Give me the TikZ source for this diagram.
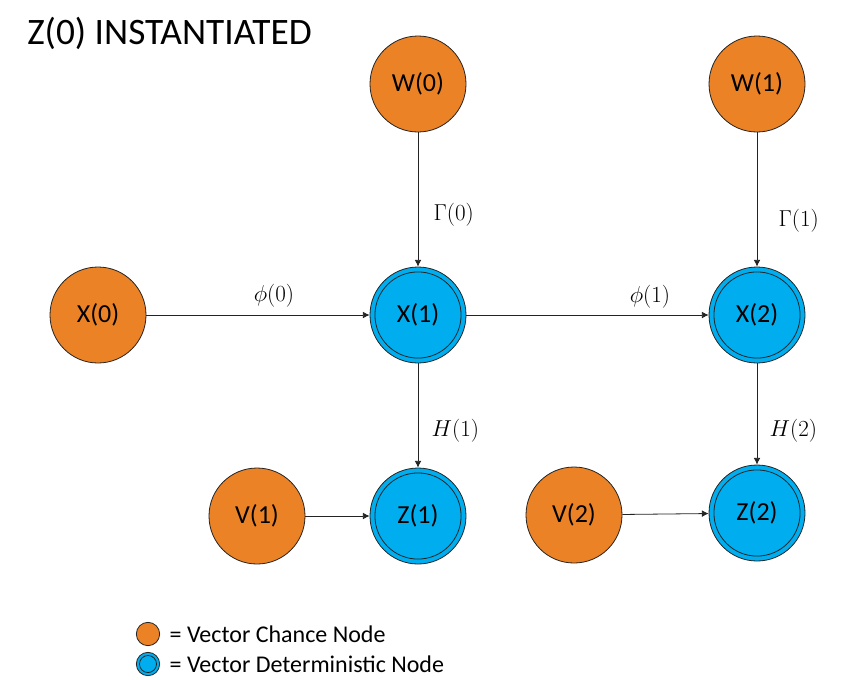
\documentclass[tikz,border=0pt]{standalone}
\usepackage{fontspec}
\setmainfont{Carlito}
\usepackage{tikz}
\usetikzlibrary{positioning,arrows.meta}
\definecolor{chance}{RGB}{236,130,38}
\definecolor{determ}{RGB}{0,174,239}
\definecolor{rim}{RGB}{35,35,35}

\begin{document}
\begin{tikzpicture}[
  x=0.75pt, y=-0.75pt,
  cnode/.style={circle,draw=rim,fill=chance,line width=0.6pt,minimum size=72pt,inner sep=0pt,font=\fontsize{19.5}{23}\selectfont},
  dnode/.style={cnode,fill=determ,path picture={\draw[rim,line width=0.6pt] (path picture bounding box.center) circle (#1);}},
  dnode/.default=32.3pt,
  ar/.style={-{Latex[length=5pt,width=5pt]},line width=0.6pt,draw=rim},
  lbl/.style={font=\fontsize{17.5}{21}\selectfont},
  legtxt/.style={inner sep=0pt,font=\fontsize{18}{21}\selectfont},
]
  \useasboundingbox (0,0) rectangle (866,679);
  \node[anchor=west,inner sep=0pt,font=\fontsize{28}{32}\selectfont] (title) at (27,33) {Z(0) INSTANTIATED};
  % chance nodes
  \node[cnode] (W0) at (418,84) {W(0)};
  \node[cnode] (W1) at (757,84) {W(1)};
  \node[cnode] (X0) at (98,315) {X(0)};
  \node[cnode] (V1) at (257,516) {V(1)};
  \node[cnode] (V2) at (574,515) {V(2)};
  % deterministic nodes
  \node[dnode] (X1) at (418,315) {X(1)};
  \node[dnode] (X2) at (757,315) {X(2)};
  \node[dnode] (Z1) at (418,516) {Z(1)};
  \node[dnode] (Z2) at (757,513) {Z(2)};
  % arrows
  \draw[ar] (W0) -- (X1);
  \draw[ar] (W1) -- (X2);
  \draw[ar] (X0) -- (X1);
  \draw[ar] (X1) -- (X2);
  \draw[ar] (X1) -- (Z1);
  \draw[ar] (X2) -- (Z2);
  \draw[ar] (V1) -- (Z1);
  \draw[ar] (V2) -- (Z2);
  % edge labels
  \node[lbl] (phi0) at (274,296) {$\phi(0)$};
  \node[lbl] (phi1) at (650,297) {$\phi(1)$};
  \node[lbl,anchor=west] (gam0) at (429,215) {$\Gamma(0)$};
  \node[lbl,anchor=west] (gam1) at (774,221) {$\Gamma(1)$};
  \node[lbl,anchor=west] (H1) at (427,431) {$H(1)$};
  \node[lbl,anchor=west] (H2) at (765,431) {$H(2)$};
  % legend
  \node[cnode,minimum size=17.5pt] (legC) at (148,634) {};
  \node[dnode=6.4pt,minimum size=17.5pt] (legD) at (148,664) {};
  \node[legtxt,right=7pt of legC] (legCtxt) {= Vector Chance Node};
  \node[legtxt,right=7pt of legD] (legDtxt) {= Vector Deterministic Node};
\end{tikzpicture}
\end{document}
